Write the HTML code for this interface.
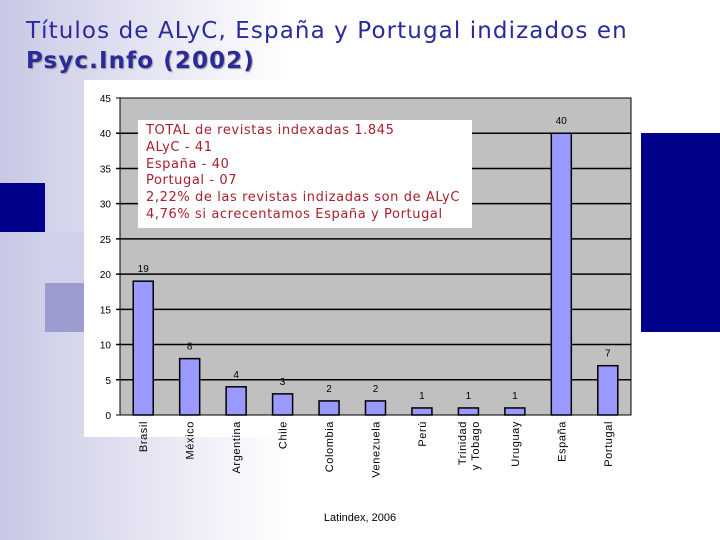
<!DOCTYPE html>
<html><head><meta charset="utf-8"><style>
body{margin:0;width:720px;height:540px;overflow:hidden;position:relative;font-family:"DejaVu Sans","Liberation Sans",sans-serif;background:linear-gradient(90deg,#c8c8e6 0%,#e4e4f2 20%,#fff 40%,#fff 100%)}
.abs{position:absolute}
</style></head><body>
<div class="abs" style="left:0;top:183px;width:45px;height:49px;background:#00008b"></div>
<div class="abs" style="left:45px;top:232px;width:40px;height:51px;background:#d0d0ea"></div>
<div class="abs" style="left:45px;top:283px;width:40px;height:49px;background:#9c9cd0"></div>
<div class="abs" style="left:641px;top:133px;width:79px;height:199px;background:#00008b"></div>
<div class="abs" style="left:26px;top:16px;font-size:23px;letter-spacing:1.1px;color:#2a2a9a;line-height:30px;white-space:nowrap">Títulos de ALyC, España y Portugal indizados en<br><b style="text-shadow:1px 1px 1px #999">Psyc.Info (2002)</b></div>
<svg class="abs" style="left:0;top:0" width="720" height="540">
<rect x="84" y="80" width="557" height="357" fill="#fff"/>
<g id="g"></g>
<text x="360" y="521" font-size="11" text-anchor="middle" font-family="Liberation Sans,sans-serif">Latindex, 2006</text>
</svg>
<div class="abs" style="left:138px;top:120px;width:334px;height:108px;background:#fff;box-sizing:border-box;padding:3px 0 0 8px;color:#a8202c;font-size:13px;letter-spacing:0.6px;line-height:16.8px;white-space:nowrap">TOTAL de revistas indexadas 1.845<br>ALyC - 41<br>España - 40<br>Portugal - 07<br>2,22% de las revistas indizadas son de ALyC<br>4,76% si acrecentamos España y Portugal</div>
<script>
const categories=["Brasil","México","Argentina","Chile","Colombia","Venezuela","Perú","Trinidad|y Tobago","Uruguay","España","Portugal"];
const values=[19,8,4,3,2,2,1,1,1,40,7];
const ticks=[0,5,10,15,20,25,30,35,40,45];
const X0=120,X1=631,Y0=415,Y1=98,MAX=45;
const y=v=>Y0-(Y0-Y1)*v/MAX;
const bw=(X1-X0)/categories.length;
const xc=i=>X0+bw*(i+0.5);
const g=document.getElementById('g');const NS='http://www.w3.org/2000/svg';
function mk(t,a,p){const e=document.createElementNS(NS,t);for(const k in a)e.setAttribute(k,a[k]);(p||g).appendChild(e);return e;}
let r=mk('rect',{x:X0,y:Y1,width:X1-X0,height:Y0-Y1,fill:'#c0c0c0',stroke:'#000','stroke-width':1});


ticks.forEach(t=>{
 let l=mk('line',{x1:X0-4,x2:X1,y1:y(t),y2:y(t),stroke:'#000','stroke-width':t%5==0&&t>0&&t<45?1.5:1});
 
 
 let tx=mk('text',{x:X0-9,y:y(t)+4,'font-size':10,'text-anchor':'end','font-family':'Liberation Sans,sans-serif'});
 tx.textContent=t;
 
 
});
categories.forEach((c,i)=>{
 const v=values[i],cx=xc(i);
 let b=mk('rect',{x:cx-10,y:y(v),width:20,height:Y0-y(v),fill:'#9999ff',stroke:'#000','stroke-width':1.5});
 
 
 let vl=mk('text',{x:cx,y:y(v)-9,'font-size':10,'text-anchor':'middle','font-family':'Liberation Sans,sans-serif'});
 vl.textContent=v;
 
 
 const parts=c.split('|');
 parts.forEach((p,j)=>{
  const lx=cx+4+(j-(parts.length-1)/2)*13;
  let t=mk('text',{x:lx,y:421,'font-size':11,'letter-spacing':'0.6','text-anchor':'end','font-family':'Liberation Sans,sans-serif',transform:`rotate(-90 ${lx} 421)`});
  t.textContent=p;
  
  
 });
});
</script>
</body></html>
